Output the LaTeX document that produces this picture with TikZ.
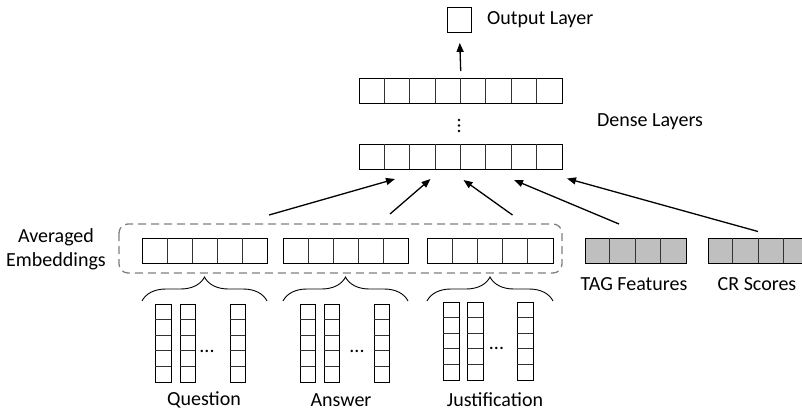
\documentclass[tikz,border=0pt]{standalone}
\usepackage{fontspec}
\setmainfont{Carlito}
\usetikzlibrary{arrows.meta,decorations.pathreplacing}
\begin{document}
\begin{tikzpicture}[x=1pt,y=-1pt,
  lbl/.style={font=\fontsize{20}{23}\selectfont, inner sep=0pt},
  cellrow/.style={draw=black, line width=0.9pt, inner sep=0pt, anchor=north west},
  arr/.style={-{Triangle[length=9pt,width=7pt]}, line width=1.3pt},
  brc/.style={decorate, decoration={brace, amplitude=24pt}, line width=0.9pt},
  sep/.style={line width=0.8pt, draw=black!80}
]
\useasboundingbox (0,0) rectangle (802,412);
\clip (0,0) rectangle (802,412);
\fill[white] (0,0) rectangle (802,412);

% output layer
\node[cellrow, minimum width=24pt, minimum height=25pt] (out) at (447,7) {};
\node[lbl, anchor=west] (outlbl) at (487,20) {Output Layer};

% dense layers
\node[cellrow, minimum width=203pt, minimum height=25pt] (d2) at (359,78) {};
\node[cellrow, minimum width=203pt, minimum height=25pt] (d1) at (359,144) {};
\foreach \i in {1,...,7} {
  \draw[sep] (359+\i*25.375,78) -- (359+\i*25.375,103);
  \draw[sep] (359+\i*25.375,144) -- (359+\i*25.375,169);
}
\foreach \y in {120,125.5,131} \fill (459,\y) circle (1.3pt);
\node[lbl] (denselbl) at (650,122) {Dense Layers};

\draw[arr, shorten <=7pt, shorten >=10pt] (d2.north) -- (out.south);

% averaged embeddings
\draw[dashed, dash pattern=on 8pt off 5pt, draw=black!50, line width=1.3pt, rounded corners=9pt] (119,224) rectangle (562,273);
\node[lbl, align=center] (avglbl) at (56,249.5) {Averaged\\[1pt]Embeddings};

\node[cellrow, minimum width=125pt, minimum height=25pt] (eq) at (142,238) {};
\node[cellrow, minimum width=125pt, minimum height=25pt] (ea) at (283,238) {};
\node[cellrow, minimum width=126pt, minimum height=25pt] (ej) at (427,238) {};
\foreach \i in {1,...,4} {
  \draw[sep] (142+\i*25,238) -- (142+\i*25,263);
  \draw[sep] (283+\i*25,238) -- (283+\i*25,263);
  \draw[sep] (427+\i*25.2,238) -- (427+\i*25.2,263);
}

% tag / cr
\node[cellrow, fill=black!25, minimum width=101pt, minimum height=25pt] (tag) at (584.5,238) {};
\node[cellrow, fill=black!25, minimum width=101pt, minimum height=25pt] (cr) at (707.5,238) {};
\foreach \i in {1,...,3} {
  \draw[sep] (584.5+\i*25.25,238) -- (584.5+\i*25.25,263);
  \draw[sep] (707.5+\i*25.25,238) -- (707.5+\i*25.25,263);
}
\node[lbl] (taglbl) at (634,284) {TAG Features};
\node[lbl] (crlbl) at (757,284) {CR Scores};

% arrows into dense
\coordinate (s1) at (269,215); \coordinate (t1) at (395,179);
\coordinate (s2) at (390,214); \coordinate (t2) at (430.5,179);
\coordinate (s3) at (512.5,215); \coordinate (t3) at (463.5,180);
\coordinate (s4) at (619,224); \coordinate (t4) at (514,180);
\coordinate (s5) at (758,231.5); \coordinate (t5) at (567,178.5);
\foreach \k in {1,...,5} \draw[arr] (s\k) -- (t\k);

% braces
\draw[brc] (142,301) -- (267,301);
\draw[brc] (283,301) -- (408,301);
\draw[brc] (427,301) -- (553,301);

% word vectors
\foreach \x/\y [count=\n] in {155/304,179.5/304,229.5/304,299.5/304,323.5/304,373.5/304,443/302,467/302,517/302} {
  \node[cellrow, minimum width=15.5pt, minimum height=77.5pt] (w\n) at (\x,\y) {};
  \foreach \j in {1,...,4} \draw[sep] (\x,\y+\j*15.5) -- (\x+15.5,\y+\j*15.5);
}
\node[lbl] (dq) at (207,351) {...};
\node[lbl] (da) at (357,351) {...};
\node[lbl] (dj) at (496.5,348) {...};

\node[lbl] (ql) at (204,400) {Question};
\node[lbl] (al) at (341,400) {Answer};
\node[lbl] (jl) at (495,400) {Justification};
\end{tikzpicture}
\end{document}
